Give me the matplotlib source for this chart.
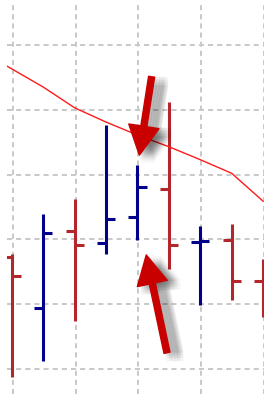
import matplotlib
matplotlib.use("Agg")
import matplotlib.pyplot as plt
import matplotlib.patheffects as pe
import numpy as np

# OHLC bars (price units, arbitrary scale)
opens = [117.3, 109.4, 121.3, 119.4, 123.5, 127.8, 119.6, 119.9, 113.6]
highs = [117.8, 123.9, 126.2, 137.6, 131.5, 141.2, 122.1, 122.4, 117.0]
lows = [98.8, 101.2, 107.4, 117.8, 119.9, 115.4, 109.9, 110.7, 108.0]
closes = [114.4, 121.0, 119.1, 123.2, 128.1, 119.1, 119.8, 113.6, 111.0]

# moving average line, one point per bar (starts one bar before the first one)
ma_index = [-1, 0, 1, 2, 3, 4, 5, 6, 7, 8]
ma_values = [149.1, 146.3, 143.5, 140.3, 138.1, 136.1, 134.3, 132.3, 130.2, 125.9]

# bar the arrows point at
marked_bar = 4

UP = "#00008b"
DOWN = "#b3262b"
ARROW = "#c80000"

fig = plt.figure(figsize=(2.64, 3.94), dpi=100)
ax = fig.add_axes([7 / 264, 0, 1 - 7 / 264, 389 / 394])

x = np.arange(len(opens))
colors = [UP if c >= o else DOWN for o, c in zip(opens, closes)]
tick = 0.29

ax.vlines(x, lows, highs, colors=colors, linewidth=2.2, zorder=3)
ax.hlines(opens, x - tick, x, colors=colors, linewidth=2.2, zorder=3)
ax.hlines(closes, x, x + tick, colors=colors, linewidth=2.2, zorder=3)

ax.plot(ma_index, ma_values, color="#ff1a1a", linewidth=1.0, zorder=4)

# arrows with a soft shadow
shadow = [pe.SimplePatchShadow(offset=(dx, dy), shadow_rgbFace="black", alpha=0.035)
          for dx in (2, 4, 6, 8, 10) for dy in (0, -2, -4, -6)]
shadow.append(pe.Normal())
style = "simple,head_length=1.05,head_width=1.1,tail_width=0.22"
hi, lo = highs[marked_bar], lows[marked_bar]
ax.annotate("", xy=(marked_bar + 0.06, hi + 1.5), xytext=(marked_bar + 0.45, hi + 13.6),
            arrowprops=dict(arrowstyle=style, color=ARROW, mutation_scale=20,
                            shrinkA=0, shrinkB=0, path_effects=shadow), zorder=6)
ax.annotate("", xy=(marked_bar + 0.28, lo - 2.3), xytext=(marked_bar + 0.94, lo - 17.4),
            arrowprops=dict(arrowstyle=style, color=ARROW, mutation_scale=20,
                            shrinkA=0, shrinkB=0, path_effects=shadow), zorder=6)

ax.set_xlim(-0.156, 7.875)
ax.set_ylim(96.14, 156.17)
ax.set_xticks(np.arange(0, 9, 2) + 0.03)
ax.set_yticks(np.arange(100, 160, 10))
ax.grid(True, color="#c8c8c8", linestyle=(0, (2.6, 2.1)), linewidth=1.4)
ax.set_axisbelow(True)
ax.tick_params(length=0, labelbottom=False, labelleft=False)
for s in ax.spines.values():
    s.set_visible(False)

fig.savefig("out.png", dpi=100)
